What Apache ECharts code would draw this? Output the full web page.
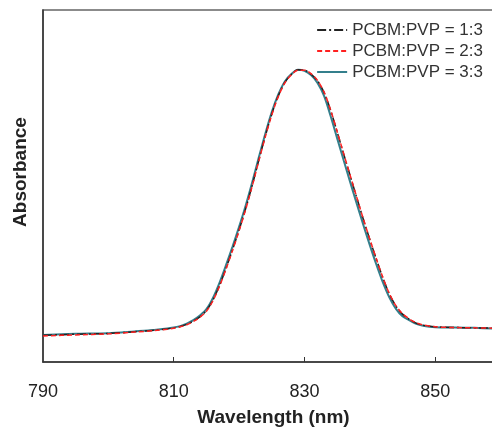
<!DOCTYPE html>
<html>
<head>
<meta charset="utf-8">
<script src="https://cdn.jsdelivr.net/npm/echarts@6/dist/echarts.min.js"></script>
<style>
html,body{margin:0;padding:0;background:#fff;}
#chart{width:492px;height:432px;}
</style>
</head>
<body>
<div id="chart"></div>
<script>
// Wavelength (nm)
var wavelengths = [790,795,800,804,807,809,810,811,812,813,814,815,816,817,818,819,820,821,822,823,824,825,826,827,828,829,830,831,832,833,834,835,836,837,838,839,840,841,842,843,844,845,846,847,848,850,853,856,859];
// Normalised absorbance, PCBM:PVP = 1:3
var abs13 = [0.076,0.079,0.081,0.086,0.090,0.094,0.097,0.101,0.107,0.116,0.128,0.146,0.176,0.217,0.266,0.319,0.375,0.435,0.501,0.572,0.641,0.704,0.756,0.794,0.817,0.830,0.829,0.818,0.799,0.766,0.715,0.654,0.591,0.529,0.467,0.406,0.348,0.292,0.239,0.193,0.159,0.136,0.122,0.111,0.105,0.100,0.098,0.097,0.096];
// Normalised absorbance, PCBM:PVP = 2:3
var abs23 = [0.074,0.077,0.080,0.085,0.089,0.093,0.096,0.100,0.106,0.115,0.127,0.144,0.174,0.215,0.264,0.317,0.373,0.433,0.499,0.570,0.639,0.702,0.754,0.793,0.816,0.829,0.829,0.819,0.800,0.767,0.716,0.655,0.592,0.530,0.468,0.407,0.349,0.293,0.240,0.194,0.160,0.137,0.123,0.112,0.106,0.100,0.098,0.097,0.096];
// Normalised absorbance, PCBM:PVP = 3:3
var abs33 = [0.077,0.080,0.082,0.087,0.091,0.095,0.098,0.102,0.109,0.119,0.132,0.150,0.182,0.225,0.275,0.328,0.384,0.444,0.510,0.580,0.648,0.710,0.760,0.797,0.818,0.830,0.827,0.815,0.793,0.756,0.699,0.636,0.573,0.511,0.450,0.390,0.332,0.277,0.226,0.183,0.151,0.130,0.119,0.109,0.104,0.099,0.098,0.097,0.095];
var seriesNames = ['PCBM:PVP = 1:3','PCBM:PVP = 2:3','PCBM:PVP = 3:3'];
var xTickLabels = [790,810,830,850];

function pairs(ys){ return wavelengths.map(function(x,i){ return [x, ys[i]]; }); }

var chart = echarts.init(document.getElementById('chart'), null, {renderer:'canvas'});
var font = '"Liberation Sans", Arial, sans-serif';
chart.setOption({
  animation:false,
  backgroundColor:'#fff',
  grid:{left:43, top:10, right:-2, bottom:70, containLabel:false, outerBoundsMode:'none',
        show:true, borderColor:'#666', borderWidth:1.5, backgroundColor:'transparent'},
  legend:{
    show:true, orient:'vertical', right:4, top:16,
    itemWidth:30, itemHeight:14, itemGap:3,
    itemStyle:{opacity:0},
    textStyle:{fontFamily:font, fontSize:17, color:'#333', lineHeight:18},
    data:seriesNames
  },
  xAxis:{
    type:'value', min:790, max:859,
    axisLine:{show:true, lineStyle:{color:'#333', width:1.5}},
    axisTick:{show:true, inside:true, length:5, lineStyle:{color:'#333', width:1}, customValues:[810,830,850]},
    axisLabel:{show:true, fontFamily:font, fontSize:18, color:'#222', margin:21, customValues:xTickLabels, hideOverlap:false},
    splitLine:{show:false},
    name:'Wavelength (nm)', nameLocation:'middle', nameGap:46,
    nameTextStyle:{fontFamily:font, fontSize:19, fontWeight:'bold', color:'#222', padding:[0,0,0,10]}
  },
  yAxis:{
    type:'value', min:0, max:1,
    axisLine:{show:true, lineStyle:{color:'#333', width:1.5}},
    axisTick:{show:false},
    axisLabel:{show:false},
    splitLine:{show:false},
    name:'Absorbance', nameLocation:'middle', nameGap:13,
    nameTextStyle:{fontFamily:font, fontSize:19, fontWeight:'bold', color:'#222', padding:[0,0,0,28]}
  },
  series:[
    {name:seriesNames[0], type:'line', data:pairs(abs13), symbol:'none', smooth:0.3, z:3,
     lineStyle:{color:'#222', width:1.5, type:[9,3,2,3]}, itemStyle:{color:'#222'}},
    {name:seriesNames[1], type:'line', data:pairs(abs23), symbol:'none', smooth:0.3, z:4,
     lineStyle:{color:'#ff2020', width:1.5, type:[5,3]}, itemStyle:{color:'#ff2020'}},
    {name:seriesNames[2], type:'line', data:pairs(abs33), symbol:'none', smooth:0.3, z:2,
     lineStyle:{color:'#347f8c', width:2, type:'solid'}, itemStyle:{color:'#347f8c'}}
  ]
});
</script>
</body>
</html>
